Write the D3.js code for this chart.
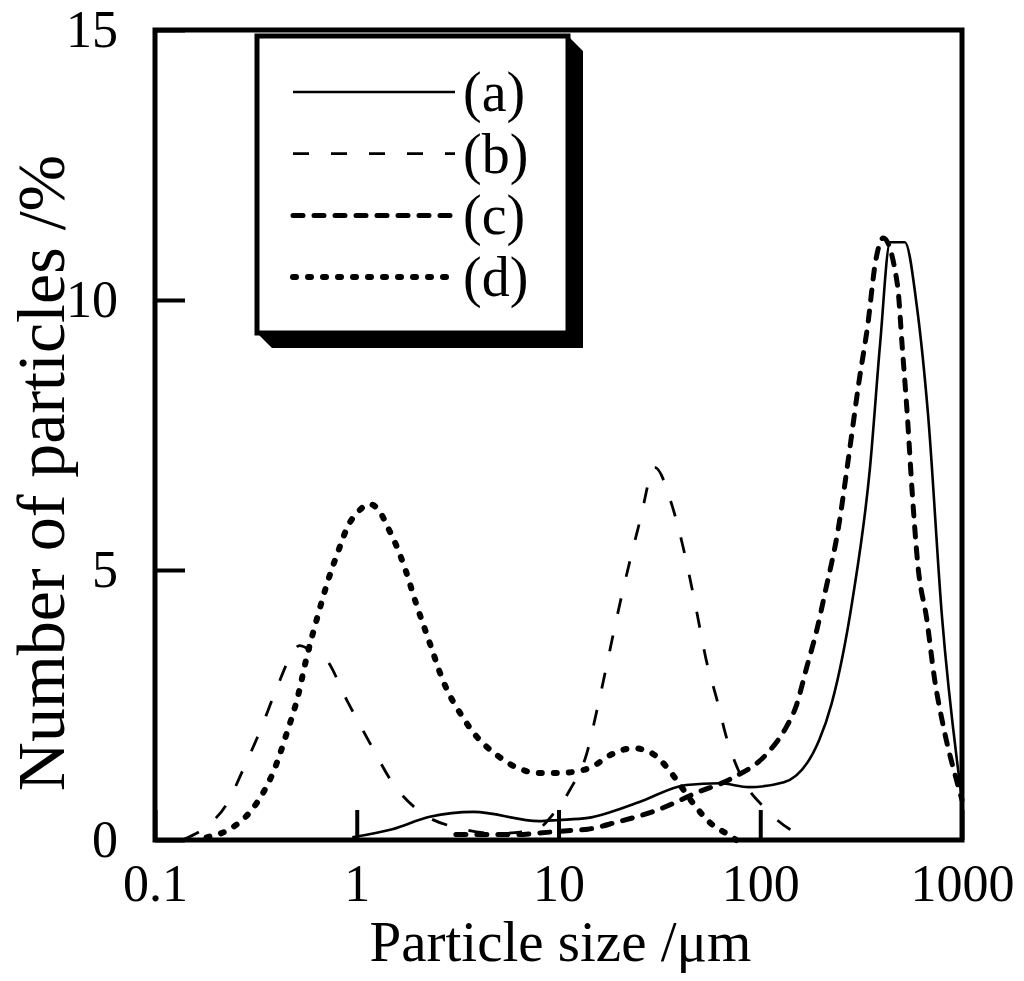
<!DOCTYPE html>
<html>
<head>
<meta charset="utf-8">
<script src="https://cdn.jsdelivr.net/npm/d3@7"></script>
<style>
  body { margin: 0; background: #fff; }
  svg { display: block; }
  text { font-family: "Liberation Serif", "DejaVu Serif", serif; fill: #000; }
</style>
</head>
<body>
<svg id="chart" width="1024" height="981"></svg>
<script>
// values: particle size (um) and number of particles (%)
const sizeA = [0.95, 1.5, 2.3, 3.8, 8, 10, 14, 25, 43, 63, 88, 131, 196, 226, 288, 350, 393, 440, 521, 598, 678, 796, 1000];
const pctA  = [0.05, 0.2, 0.43, 0.52, 0.35, 0.37, 0.41, 0.7, 1.02, 1.05, 0.98, 1.07, 1.85, 2.53, 4.5, 6.9, 9.2, 11.07, 11.07, 9.87, 7.9, 4.13, 0.74];

const sizeB = [0.14, 0.18, 0.228, 0.273, 0.33, 0.4, 0.47, 0.52, 0.6, 0.71, 0.89, 1.16, 1.51, 2.1, 3.2, 5, 7.8, 9.5, 11.4, 13.8, 15.5, 20.5, 25.3, 30, 36.5, 41, 48, 54, 61, 68, 79, 108, 140, 178];
const pctB  = [0.02, 0.25, 0.68, 1.3, 2.0, 2.8, 3.4, 3.6, 3.5, 3.33, 2.6, 1.8, 1.05, 0.5, 0.22, 0.12, 0.2, 0.5, 0.93, 1.6, 2.4, 4.5, 5.9, 6.9, 6.2, 5.5, 4.3, 3.33, 2.6, 1.9, 1.24, 0.55, 0.2, 0.05];

const sizeC = [3.1, 6.2, 8, 11.8, 14, 19.4, 30.7, 48, 73, 108, 135, 150, 170, 191, 210, 243, 276, 309, 340, 374, 407, 478, 507, 535, 565, 604, 670, 730, 815, 960, 1000];
const pctC  = [0.1, 0.1, 0.13, 0.18, 0.2, 0.33, 0.55, 0.87, 1.15, 1.6, 2.1, 2.46, 3.2, 3.9, 4.6, 5.74, 7.17, 8.5, 9.5, 10.74, 11.15, 10.3, 9.07, 7.9, 6.5, 5.1, 4.07, 3.0, 2.04, 0.98, 0.74];

const sizeD = [0.18, 0.244, 0.296, 0.343, 0.384, 0.45, 0.51, 0.566, 0.635, 0.72, 0.83, 0.9, 1.0, 1.16, 1.29, 1.43, 1.58, 1.73, 1.98, 2.3, 2.67, 3.37, 3.94, 4.96, 6.3, 8.1, 9.8, 11.8, 14.6, 18, 23.5, 28.3, 34.4, 40, 46.5, 56, 70, 76];
const pctD  = [0.05, 0.24, 0.52, 0.87, 1.24, 1.98, 2.65, 3.4, 4.1, 4.8, 5.46, 5.8, 6.05, 6.22, 6.1, 5.78, 5.43, 5.04, 4.35, 3.65, 2.96, 2.26, 1.91, 1.57, 1.33, 1.24, 1.24, 1.26, 1.35, 1.57, 1.7, 1.63, 1.35, 1.02, 0.68, 0.33, 0.09, 0.0];

const seriesLabels = ["(a)", "(b)", "(c)", "(d)"];
const xTicks = [0.1, 1, 10, 100, 1000];
const yTicks = [0, 5, 10, 15];

const series = [
  { label: seriesLabels[0], xs: sizeA, ys: pctA, width: 2.6, dash: null, cap: "butt" },
  { label: seriesLabels[1], xs: sizeB, ys: pctB, width: 2.8, dash: "16,22", cap: "butt" },
  { label: seriesLabels[2], xs: sizeC, ys: pctC, width: 5, dash: "10,11", cap: "round" },
  { label: seriesLabels[3], xs: sizeD, ys: pctD, width: 6, dash: "3,12", cap: "round" },
];

const svg = d3.select("#chart");
const margin = { left: 155, right: 62, top: 30, bottom: 141 };
const W = 1024, H = 981;

const x = d3.scaleLog().domain([0.1, 1000]).range([margin.left, W - margin.right]);
const y = d3.scaleLinear().domain([0, 15]).range([H - margin.bottom, margin.top]);

const line = d3.line()
  .x((d) => x(d[0]))
  .y((d) => y(d[1]))
  .curve(d3.curveMonotoneX);

// curves
svg.append("g")
  .selectAll("path")
  .data(series)
  .join("path")
  .attr("d", (s) => line(s.xs.map((v, i) => [v, s.ys[i]])))
  .attr("fill", "none")
  .attr("stroke", "#000")
  .attr("stroke-width", (s) => s.width)
  .attr("stroke-dasharray", (s) => s.dash)
  .attr("stroke-linecap", (s) => s.cap)
  .attr("stroke-linejoin", "round");

// axes, ticks pointing inward
const xAxis = svg.append("g")
  .attr("transform", `translate(0,${y(0)})`)
  .call(d3.axisBottom(x).tickValues(xTicks).tickFormat(d3.format("~g"))
    .tickSizeInner(-30).tickSizeOuter(0).tickPadding(24));

const yAxis = svg.append("g")
  .attr("transform", `translate(${x(0.1)},0)`)
  .call(d3.axisLeft(y).tickValues(yTicks).tickFormat(d3.format("d"))
    .tickSizeInner(-30).tickSizeOuter(0).tickPadding(37));

[xAxis, yAxis].forEach((g) => {
  g.select(".domain").remove();
  g.selectAll(".tick line").attr("stroke", "#000").attr("stroke-width", 4);
  g.selectAll(".tick text").attr("font-size", 52).attr("fill", "#000")
    .style("font-family", '"Liberation Serif", serif');
});

// frame
svg.append("rect")
  .attr("x", x(0.1)).attr("y", y(15))
  .attr("width", x(1000) - x(0.1)).attr("height", y(0) - y(15))
  .attr("fill", "none").attr("stroke", "#000").attr("stroke-width", 5);

// axis titles
svg.append("text")
  .attr("x", (x(0.1) + x(1000)) / 2 + 2).attr("y", 961)
  .attr("text-anchor", "middle").attr("font-size", 57)
  .text("Particle size /μm");

svg.append("text")
  .attr("transform", `translate(64,473) rotate(-90)`)
  .attr("text-anchor", "middle").attr("font-size", 68)
  .text("Number of particles /%");

// legend with drop shadow
const lg = { x0: 257, y0: 36, x1: 568, y1: 333, d: 15 };
svg.append("polygon")
  .attr("points", [
    [lg.x1, lg.y0], [lg.x1 + lg.d, lg.y0 + lg.d], [lg.x1 + lg.d, lg.y1 + lg.d],
    [lg.x0 + lg.d, lg.y1 + lg.d], [lg.x0, lg.y1], [lg.x1, lg.y1],
  ].map((p) => p.join(",")).join(" "))
  .attr("fill", "#000");

svg.append("rect")
  .attr("x", lg.x0).attr("y", lg.y0)
  .attr("width", lg.x1 - lg.x0).attr("height", lg.y1 - lg.y0)
  .attr("fill", "#fff").attr("stroke", "#000").attr("stroke-width", 5);

const legendRow = svg.append("g")
  .selectAll("g")
  .data(series)
  .join("g")
  .attr("transform", (s, i) => `translate(0,${92 + i * 61.7})`);

legendRow.append("line")
  .attr("x1", 293).attr("x2", 455)
  .attr("stroke", "#000")
  .attr("stroke-width", (s) => s.width)
  .attr("stroke-dasharray", (s) => s.dash)
  .attr("stroke-linecap", (s) => s.cap);

legendRow.append("text")
  .attr("x", 463).attr("y", 19)
  .attr("font-size", 56)
  .text((s) => s.label);
</script>
</body>
</html>
